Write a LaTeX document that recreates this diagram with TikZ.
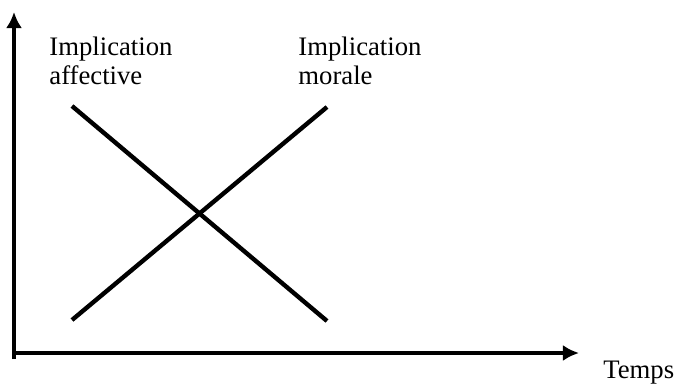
\documentclass[tikz,border=0pt]{standalone}
\usepackage{fontspec}
\setmainfont{Liberation Serif}
\usetikzlibrary{arrows.meta, positioning}

\begin{document}
\begin{tikzpicture}[x=0.5pt, y=-0.5pt, >={Latex[length=8pt, width=8pt]},
    axe/.style={line width=1.6pt},
    courbe/.style={line width=2.2pt},
    etiquette/.style={font=\fontsize{13.35}{14.5}\selectfont, inner sep=0pt, align=left}]
    \useasboundingbox (0,0) rectangle (677,387);

    % Axes
    \coordinate (O) at (14,359);
    \coordinate (Y) at (14,12);
    \coordinate (H) at (14,353);
    \coordinate (X) at (579,353);
    \draw[axe, ->] (O) -- (Y);
    \draw[axe, ->] (H) -- (X);
    \node[etiquette, anchor=base west] (temps) at (603,378) {Temps};

    % Les deux droites
    \coordinate (A1) at (72,106);
    \coordinate (A2) at (327,321);
    \coordinate (M1) at (72,320);
    \coordinate (M2) at (327,107);
    \draw[courbe] (A1) -- (A2);
    \draw[courbe] (M1) -- (M2);

    % Etiquettes
    \node[etiquette, anchor=north west] (affective) at (49,37) {Implication\\affective};
    \node[etiquette, anchor=north west] (morale) at (298,37) {Implication\\morale};
\end{tikzpicture}
\end{document}
